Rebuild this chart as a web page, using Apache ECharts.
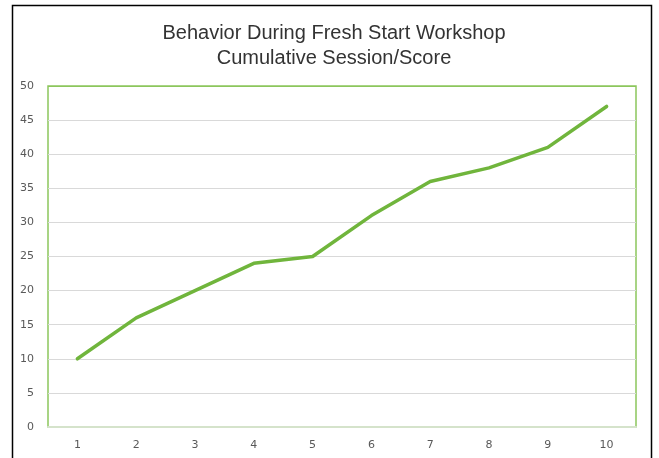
<!DOCTYPE html>
<html>
<head>
<meta charset="utf-8">
<script src="https://cdn.jsdelivr.net/npm/echarts@6/dist/echarts.min.js"></script>
<style>
html,body{margin:0;padding:0;background:#fff;}
#chart{width:659px;height:458px;}
</style>
</head>
<body>
<div id="chart"></div>
<script>
const titleLines = ["Behavior During Fresh Start Workshop", "Cumulative Session/Score"];
const categories = ["1","2","3","4","5","6","7","8","9","10"];
const scores = [10, 16, 20, 24, 25, 31, 36, 38, 41, 47];
const yMin = 0, yMax = 50, yStep = 5;

const gridColors = ['#d5e3cb','#d9d9d9','#d9d9d9','#d9d9d9','#d9d9d9','#d9d9d9','#d9d9d9','#d9d9d9','#d9d9d9','#d9d9d9','#8cc65c'];

const chart = echarts.init(document.getElementById('chart'), null, {renderer: 'canvas'});
chart.setOption({
  animation: false,
  backgroundColor: '#ffffff',
  graphic: [{
    type: 'rect',
    shape: {x: 12.5, y: 5.5, width: 639, height: 470},
    style: {fill: 'none', stroke: '#000000', lineWidth: 1.5},
    silent: true, z: 0
  }, {
    type: 'text',
    x: 334, y: 46,
    silent: true, z: 10,
    style: {
      text: titleLines.join('\n'),
      align: 'center',
      verticalAlign: 'middle',
      fontFamily: '"Liberation Sans", Arial, sans-serif',
      fontWeight: 'normal',
      fontSize: 20,
      lineHeight: 25,
      fill: '#333333'
    }
  }],
  grid: {
    left: 48, right: 23, top: 86, bottom: 31,
    show: true,
    borderColor: '#8cc65c',
    borderWidth: 1.5,
    backgroundColor: 'transparent'
  },
  xAxis: {
    type: 'category',
    data: categories,
    boundaryGap: true,
    axisLine: {show: true, lineStyle: {color: '#d5e3cb', width: 2}},
    axisTick: {show: false},
    axisLabel: {color: '#595959', fontSize: 11, margin: 13, fontFamily: '"DejaVu Sans", sans-serif'},
    splitLine: {show: false}
  },
  yAxis: {
    type: 'value',
    min: yMin, max: yMax, interval: yStep,
    axisLine: {show: false},
    axisTick: {show: false},
    axisLabel: {color: '#595959', fontSize: 11, margin: 14, fontFamily: '"DejaVu Sans", sans-serif'},
    splitLine: {show: true, lineStyle: {color: gridColors, width: 1.2}}
  },
  series: [{
    type: 'line',
    data: scores,
    symbol: 'none',
    smooth: false,
    lineStyle: {color: '#70b53c', width: 3.5, cap: 'round', join: 'round'},
    z: 5
  }]
});
</script>
</body>
</html>
